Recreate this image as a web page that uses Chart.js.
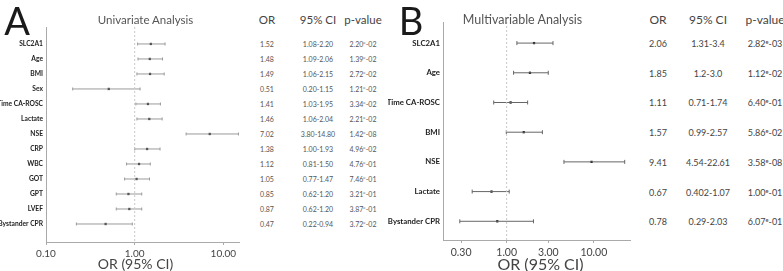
<!DOCTYPE html>
<html><head><meta charset="utf-8">
<script src="https://cdn.jsdelivr.net/npm/chart.js@4.4.1/dist/chart.umd.min.js"></script>
<style>
html,body{margin:0;padding:0;background:#fff;}
body{width:783px;height:271px;position:relative;overflow:hidden;font-family:Lato,"Open Sans",sans-serif;}
canvas{position:absolute;}
.t{position:absolute;white-space:nowrap;transform:translate(-50%,-50%);line-height:1;}
sup{font-size:65%;vertical-align:0.45em;line-height:0;}
</style></head><body>
<canvas id="cA" width="245" height="271" style="left:0;top:0"></canvas>
<canvas id="cB" width="249" height="271" style="left:388px;top:0"></canvas>
<script>
// ---- Panel A: Univariate ----
const uniLabels = ['SLC2A1','Age','BMI','Sex','Time CA-ROSC','Lactate','NSE','CRP','WBC','GOT','GPT','LVEF','Bystander CPR'];
const uniOR   = [1.52,1.48,1.49,0.51,1.41,1.46,7.02,1.38,1.12,1.05,0.85,0.87,0.47];
const uniLow  = [1.08,1.09,1.06,0.20,1.03,1.06,3.80,1.00,0.81,0.77,0.62,0.62,0.22];
const uniHigh = [2.20,2.06,2.15,1.15,1.95,2.04,14.80,1.93,1.50,1.47,1.20,1.20,0.94];
const uniORText = ['1.52','1.48','1.49','0.51','1.41','1.46','7.02','1.38','1.12','1.05','0.85','0.87','0.47'];
const uniCIText = ['1.08-2.20','1.09-2.06','1.06-2.15','0.20-1.15','1.03-1.95','1.06-2.04','3.80-14.80','1.00-1.93','0.81-1.50','0.77-1.47','0.62-1.20','0.62-1.20','0.22-0.94'];
const uniPMant = ['2.20','1.39','2.72','1.21','3.34','2.21','1.42','4.96','4.76','7.46','3.21','3.87','3.72'];
const uniPExp  = ['-02','-02','-02','-02','-02','-02','-08','-02','-01','-01','-01','-01','-02'];
const uniTicks = [0.1, 1, 10];

// ---- Panel B: Multivariable ----
const mulLabels = ['SLC2A1','Age','Time CA-ROSC','BMI','NSE','Lactate','Bystander CPR'];
const mulOR   = [2.06,1.85,1.11,1.57,9.41,0.67,0.78];
const mulLow  = [1.31,1.2,0.71,0.99,4.54,0.402,0.29];
const mulHigh = [3.4,3.0,1.74,2.57,22.61,1.07,2.03];
const mulORText = ['2.06','1.85','1.11','1.57','9.41','0.67','0.78'];
const mulCIText = ['1.31-3.4','1.2-3.0','0.71-1.74','0.99-2.57','4.54-22.61','0.402-1.07','0.29-2.03'];
const mulPMant = ['2.82','1.12','6.40','5.86','3.58','1.00','6.07'];
const mulPExp  = ['-03','-02','-01','-02','-08','-01','-01'];
const mulTicks = [0.3, 1, 3, 10];

const FONT = 'Lato';

function addText(html, x, y, css){
  const d = document.createElement('div');
  d.className = 't';
  d.innerHTML = html;
  d.style.left = x + 'px';
  d.style.top = y + 'px';
  Object.assign(d.style, css || {});
  document.body.appendChild(d);
  return d;
}

function makePanel(o){
  const n = o.labels.length;
  const datasets = [];
  datasets.push({data:[{x:1,y:o.yMin},{x:1,y:o.yMax}], showLine:true, borderColor:'#c8c8c8', borderWidth:1, borderDash:[2,2], pointRadius:0});
  for(let i=0;i<n;i++){
    datasets.push({data:[{x:o.low[i],y:i},{x:o.high[i],y:i}], showLine:true, borderColor:o.whisker, borderWidth:1,
      pointStyle:'line', rotation:90, pointRadius:o.cap, pointBorderColor:o.whisker, pointBorderWidth:1});
  }
  datasets.push({data:o.or.map((v,i)=>({x:v,y:i})), showLine:false, pointStyle:'rect', pointRadius:o.dot,
    backgroundColor:'#111', borderColor:'#111', borderWidth:0});
  const chart = new Chart(document.getElementById(o.canvas), {
    type:'scatter',
    data:{datasets},
    options:{
      responsive:false, animation:false, devicePixelRatio:1,
      layout:{padding:{top:o.padTop, right:o.padRight, bottom:o.padBottom, left:0}},
      plugins:{legend:{display:false}, tooltip:{enabled:false}},
      scales:{
        x:{type:'logarithmic', min:o.xMin, max:o.xMax,
          afterBuildTicks:(s)=>{ s.ticks = o.ticks.map(v=>({value:v})); },
          afterFit:(s)=>{ s.height = o.xAxisH; },
          ticks:{callback:(v)=>Number(v).toFixed(2), color:'#444', font:{family:FONT,size:o.tickSize}, padding:3, maxRotation:0, autoSkip:false},
          grid:{display:true, drawOnChartArea:false, drawTicks:true, tickLength:3, color:'#aaa'},
          border:{display:true, color:'#aaa', width:1}
        },
        y:{type:'linear', reverse:true, min:o.yMin, max:o.yMax,
          afterBuildTicks:(s)=>{ s.ticks = o.labels.map((l,i)=>({value:i})); },
          afterFit:(s)=>{ s.width = o.yAxisW; },
          ticks:{callback:(v)=>o.labels[v], color:'#222', font:{family:FONT,size:o.labelSize,weight:'bold'}, padding:o.labelPad, autoSkip:false},
          grid:{display:false, drawTicks:false, tickLength:0},
          border:{display:true, color:'#aaa', width:1}
        }
      }
    }
  });
  const off = o.left;
  const ca = chart.chartArea;
  const ys = chart.scales.y;
  for(let i=0;i<n;i++){
    const y = ys.getPixelForValue(i);
    const st = {fontSize:o.valSize+'px', color:o.valColor};
    addText(o.orText[i], o.colX[0], y, st);
    addText(o.ciText[i], o.colX[1], y, st);
    addText(o.pMant[i] + '<sup>e</sup>' + o.pExp[i], o.colX[2], y, st);
  }
  const hs = {fontSize:o.headSize+'px', color:'#444'};
  addText('OR', o.colX[0], o.headY, hs);
  addText('95% CI', o.colX[1], o.headY, hs);
  addText('p-value', o.colX[2], o.headY, hs);
  addText(o.title, off + (ca.left+ca.right)/2 + o.titleDx, o.titleY, {fontSize:o.titleSize+'px', color:'#555'});
  addText('OR (95% CI)', off + (ca.left+ca.right)/2 + o.axTitleDx, o.axTitleY, {fontSize:o.axTitleSize+'px', color:'#444'});
  addText(o.letter, o.letterX, o.letterY, {fontSize:'38px', color:'#1a1a1a'});
  return chart;
}

makePanel({canvas:'cA', left:0, labels:uniLabels, or:uniOR, low:uniLow, high:uniHigh,
  orText:uniORText, ciText:uniCIText, pMant:uniPMant, pExp:uniPExp, ticks:uniTicks,
  xMin:0.1, xMax:15, yMin:-1.13, yMax:13.2, padTop:27, padRight:6, padBottom:9, xAxisH:20, yAxisW:46,
  whisker:'#9a9a9a', cap:1.5, dot:1.6, labelSize:6.7, labelPad:3, tickSize:10, valSize:7, valColor:'#555', headSize:11.5,
  colX:[267,318,363], headY:20, title:'Univariate Analysis', titleY:20, titleDx:3, titleSize:11.5,
  axTitleY:264, axTitleDx:-7, axTitleSize:14, letter:'A', letterX:17, letterY:20});

makePanel({canvas:'cB', left:388, labels:mulLabels, or:mulOR, low:mulLow, high:mulHigh,
  orText:mulORText, ciText:mulCIText, pMant:mulPMant, pExp:mulPExp, ticks:mulTicks,
  xMin:0.186, xMax:26, yMin:-0.71, yMax:6.63, padTop:22, padRight:7, padBottom:11, xAxisH:20, yAxisW:55,
  whisker:'#666', cap:2, dot:1.6, labelSize:7.8, labelPad:3, tickSize:10.5, valSize:9, valColor:'#444', headSize:12,
  colX:[658,708,765], headY:20, title:'Multivariable Analysis', titleY:20, titleDx:-14, titleSize:12.5,
  axTitleY:264, axTitleDx:4, axTitleSize:16, letter:'B', letterX:411, letterY:20});
</script>
</body></html>
